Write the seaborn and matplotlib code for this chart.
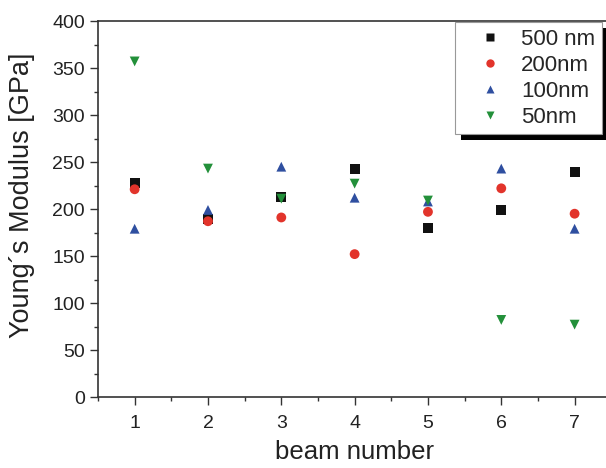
import pandas as pd
import matplotlib.pyplot as plt
import matplotlib.patheffects as pe
import seaborn as sns
from matplotlib.ticker import MultipleLocator

sns.set_style("ticks")
plt.rcParams['font.family'] = ['Liberation Sans', 'DejaVu Sans']

# === DATA ===
beams = [1, 2, 3, 4, 5, 6, 7]
e_500 = [228, 189, 213, 243, 180, 199, 239]
e_200 = [221, 187, 191, 152, 197, 222, 195]
e_100 = [179, 199, 245, 212, 208, 243, 179]
e_50 = [357, 243, 211, 227, 209, 82, 77]
series = ["500 nm", "200nm", "100nm", "50nm"]

df = pd.DataFrame({
    "beam": beams * 4,
    "E": e_500 + e_200 + e_100 + e_50,
    "size": [s for s in series for _ in beams],
})

colors = {"500 nm": "#111111", "200nm": "#e2342b", "100nm": "#2f4fa0", "50nm": "#23903a"}
markers = {"500 nm": "s", "200nm": "o", "100nm": "^", "50nm": "v"}

fig = plt.figure(figsize=(6.06, 4.68), dpi=100)
ax = fig.add_axes([0.1617, 0.1517, 0.847, 0.8034])

sns.scatterplot(data=df, x="beam", y="E", hue="size", style="size",
                palette=colors, markers=markers, s=50, edgecolor="none", ax=ax)

ax.set_xlim(0.5, 7.5)
ax.set_ylim(0, 400)
ax.xaxis.set_major_locator(MultipleLocator(1))
ax.xaxis.set_minor_locator(MultipleLocator(0.5))
ax.yaxis.set_major_locator(MultipleLocator(50))
ax.yaxis.set_minor_locator(MultipleLocator(25))
ax.tick_params(axis="both", which="major", direction="out", length=6, width=1,
               labelsize=14, color="#333333", labelcolor="#222222")
ax.tick_params(axis="x", which="major", pad=7)
ax.tick_params(axis="both", which="minor", direction="out", length=3, width=1, color="#333333")
ax.spines["right"].set_visible(False)
for sp in ax.spines.values():
    sp.set_color("#333333")
    sp.set_linewidth(1.2)

ax.set_xlabel("beam number", fontsize=18.5, color="#222222", labelpad=6)
ax.set_ylabel("Young´s Modulus [GPa]", fontsize=19.5, color="#222222")
ax.yaxis.set_label_coords(-0.122, 0.537)

leg = ax.legend(loc="upper right", bbox_to_anchor=(0.99, 1.008), fontsize=16,
                frameon=True, fancybox=False,
                handlelength=2.5, handletextpad=0.15, borderpad=0.3,
                labelspacing=0.22, markerscale=0.85, borderaxespad=0.2)
frame = leg.get_frame()
frame.set_edgecolor("#999999")
frame.set_linewidth(0.8)
frame.set_alpha(1)
frame.set_path_effects([pe.SimplePatchShadow(offset=(4, -4), shadow_rgbFace="black", alpha=1),
                        pe.Normal()])

plt.savefig("out.png", dpi=100)
